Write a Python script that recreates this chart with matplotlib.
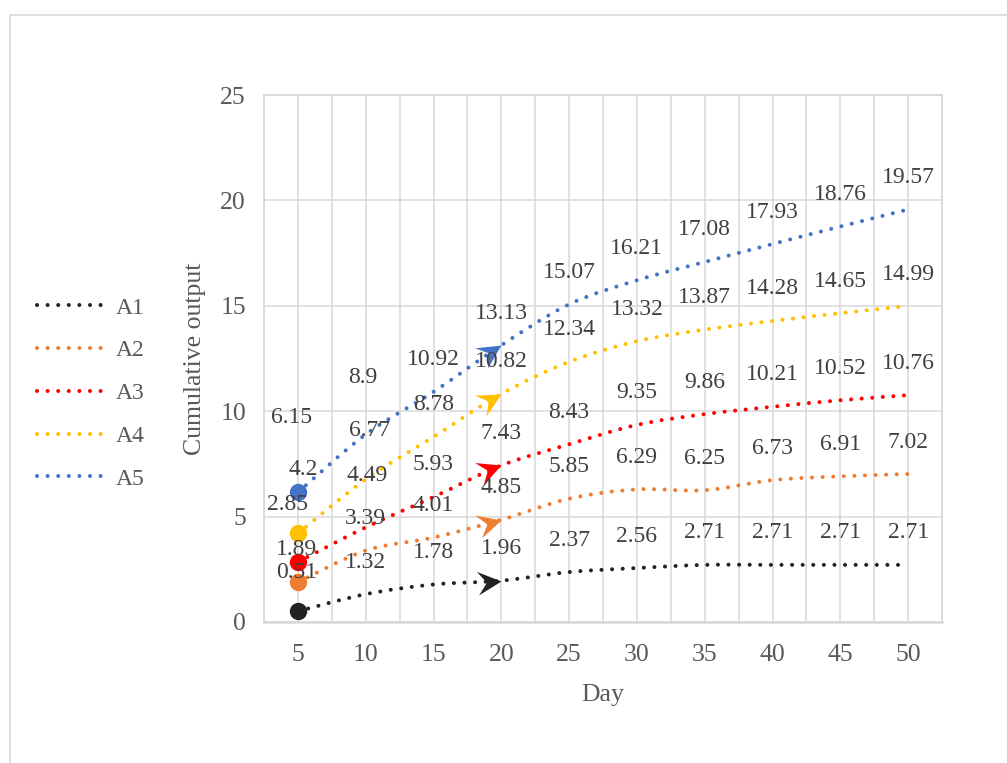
import numpy as np
import matplotlib
matplotlib.use("Agg")
import matplotlib.pyplot as plt
from matplotlib.path import Path
from matplotlib.patches import PathPatch, Rectangle
from matplotlib.markers import MarkerStyle
from matplotlib.transforms import Affine2D
from matplotlib.lines import Line2D

plt.rcParams['font.family'] = ['Liberation Serif', 'DejaVu Serif']

# ---------- data ----------
days = [5, 10, 15, 20, 25, 30, 35, 40, 45, 50]
a1 = [0.51, 1.32, 1.78, 1.96, 2.37, 2.56, 2.71, 2.71, 2.71, 2.71]
a2 = [1.89, 3.39, 4.01, 4.85, 5.85, 6.29, 6.25, 6.73, 6.91, 7.02]
a3 = [2.85, 4.49, 5.93, 7.43, 8.43, 9.35, 9.86, 10.21, 10.52, 10.76]
a4 = [4.2, 6.77, 8.78, 10.82, 12.34, 13.32, 13.87, 14.28, 14.65, 14.99]
a5 = [6.15, 8.9, 10.92, 13.13, 15.07, 16.21, 17.08, 17.93, 18.76, 19.57]
names = ['A1', 'A2', 'A3', 'A4', 'A5']
series = [a1, a2, a3, a4, a5]
colors = ['#222222', '#ED7D31', '#FF0000', '#FFC000', '#4472C4']
arrow_day = 20

# labels that were dragged away from the default spot (pixels)
label_moves = {
    ('A5', 5): (-6, 75), ('A4', 5): (5, 64), ('A3', 5): (-10, 57),
    ('A2', 5): (-1, 33), ('A1', 5): (-1, 39),
    ('A5', 10): (-3, 57), ('A4', 10): (4, 49), ('A3', 10): (1, 52),
}

grid_c = '#D9D9D9'
tick_c = '#595959'
lab_c = '#404040'

fig = plt.figure(figsize=(10.07, 7.63), dpi=100)
W, H = 1007, 763
ax = fig.add_axes([264 / W, 141 / H, (942 - 264) / W, (622 - 95) / H])
ax.set_xlim(2.5, 52.5)
ax.set_ylim(0, 25)

# outer chart border
fig.patches.append(Rectangle((10 / W, -0.02), 1.1, (763 - 15) / H + 0.02,
                             transform=fig.transFigure, fill=False,
                             edgecolor=grid_c, lw=1.2))


def smooth_path(x, y):
    # Excel-style smoothed line as cubic bezier segments
    pts = np.column_stack([x, y]).astype(float)
    n = len(pts)
    verts = [pts[0]]
    codes = [Path.MOVETO]
    for i in range(n - 1):
        p0 = pts[i - 1] if i > 0 else pts[i]
        p1 = pts[i]
        p2 = pts[i + 1]
        p3 = pts[i + 2] if i + 2 < n else pts[i + 1]
        c1 = p1 + (p2 - p0) / 6
        c2 = p2 - (p3 - p1) / 6
        verts += [c1, c2, p2]
        codes += [Path.CURVE4] * 3
    return Path(verts, codes)


lw = 2.9
dots = (0, (0.01, 2.62))
stealth = Path([(0, 0), (-1, 0.5), (-0.62, 0), (-1, -0.5), (0, 0)],
               [Path.MOVETO, Path.LINETO, Path.LINETO, Path.LINETO, Path.CLOSEPOLY])

for name, vals, col in zip(names, series, colors):
    ax.add_patch(PathPatch(smooth_path(days, vals), fill=False, edgecolor=col,
                           lw=lw, linestyle=dots, capstyle='round', zorder=3))
    ax.plot(days[0], vals[0], 'o', color=col, ms=11.5, zorder=4)

    # arrow head at day 20 following the line direction
    i = days.index(arrow_day)
    p_prev = ax.transData.transform((days[i - 1], vals[i - 1]))
    p_next = ax.transData.transform((days[i + 1], vals[i + 1]))
    ang = np.degrees(np.arctan2(p_next[1] - p_prev[1], p_next[0] - p_prev[0]))
    mk = MarkerStyle(stealth, transform=Affine2D().rotate_deg(ang))
    ax.plot(days[i], vals[i], marker=mk, color=col, ms=34, mew=0, zorder=4)

    for d, v in zip(days, vals):
        dx, dy = label_moves.get((name, d), (0, 32))
        ax.annotate(f'{v:g}', (d, v), xytext=(dx, dy), textcoords='offset pixels',
                    ha='center', va='center', fontsize=17, color=lab_c, zorder=6)

# axes styling
ax.set_xticks(days)
ax.set_xticks(np.arange(2.5, 53, 2.5), minor=True)
ax.set_yticks(np.arange(0, 26, 5))
ax.grid(True, which='both', axis='x', color=grid_c, lw=1.1)
ax.grid(True, which='major', axis='y', color=grid_c, lw=1.1)
ax.set_axisbelow(True)
for s in ax.spines.values():
    s.set_color(grid_c)
    s.set_linewidth(1.3)
ax.spines['bottom'].set_linewidth(1.8)
ax.tick_params(which='both', length=0)
ax.tick_params(axis='y', pad=13, labelsize=18.5, labelcolor=tick_c)
ax.tick_params(axis='x', pad=16, labelsize=18.5, labelcolor=tick_c)

ax.set_xlabel('Day', fontsize=18.5, color=tick_c, labelpad=13)
ax.set_ylabel('Cumulative output', fontsize=18.5, color=tick_c, labelpad=10)

handles = [Line2D([], [], color=c, lw=lw, linestyle=dots, dash_capstyle='round')
           for c in colors]
fig.legend(handles, names, loc='upper left', bbox_to_anchor=(37 / W, 1 - 297 / H),
           frameon=False, fontsize=17, labelcolor=tick_c, handlelength=3.0,
           handletextpad=0.35, labelspacing=0.9, borderaxespad=0, borderpad=0)

fig.savefig('out.png', dpi=100)
